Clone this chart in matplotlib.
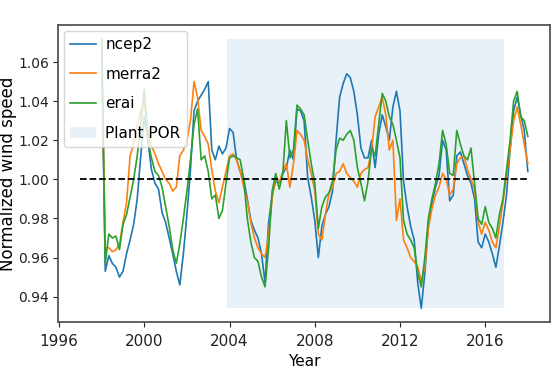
import numpy as np
import matplotlib
matplotlib.use("Agg")
import matplotlib.pyplot as plt

# ---- data (bi-monthly readings, decimal years) ----
start_year = 1998.0
step = 1.0 / 6.0

ncep2 = [1.065, 0.953, 0.961, 0.957, 0.955, 0.950, 0.953, 0.962, 0.969, 0.977,
         0.990, 1.012, 1.032, 1.020, 1.005, 0.998, 0.995, 0.983, 0.978, 0.970,
         0.962, 0.953, 0.946, 0.962, 0.982, 1.005, 1.035, 1.040, 1.043, 1.046,
         1.050, 1.015, 1.010, 1.017, 1.013, 1.016, 1.026, 1.024, 1.010, 1.004,
         1.000, 0.990, 0.979, 0.974, 0.970, 0.962, 0.947, 0.978, 0.992, 0.999,
         0.998, 1.003, 1.006, 1.015, 1.010, 1.036, 1.035, 1.030, 1.001, 0.991,
         0.979, 0.960, 0.976, 0.982, 0.986, 0.994, 1.020, 1.042, 1.049, 1.054,
         1.052, 1.045, 1.033, 1.016, 1.011, 1.011, 1.020, 1.006, 1.023, 1.033,
         1.027, 1.020, 1.037, 1.045, 1.035, 0.999, 0.986, 0.976, 0.969, 0.947,
         0.934, 0.952, 0.978, 0.988, 0.996, 1.002, 1.020, 1.015, 0.989, 0.992,
         1.012, 1.014, 1.008, 1.002, 0.998, 0.990, 0.968, 0.965, 0.972, 0.968,
         0.962, 0.955, 0.966, 0.978, 0.992, 1.015, 1.035, 1.042, 1.033, 1.025,
         1.004]

merra2 = [1.068, 0.965, 0.965, 0.963, 0.964, 0.967, 0.978, 0.988, 1.012, 1.018,
          1.028, 1.035, 1.040, 1.025, 1.017, 1.013, 1.008, 1.004, 1.000, 0.998,
          0.994, 0.996, 1.012, 1.015, 1.020, 1.030, 1.050, 1.042, 1.025, 1.022,
          1.018, 1.005, 0.994, 0.988, 0.996, 1.004, 1.012, 1.013, 1.010, 1.004,
          0.996, 0.989, 0.978, 0.970, 0.965, 0.962, 0.960, 0.972, 0.990, 1.002,
          0.998, 1.004, 1.008, 0.996, 1.008, 1.025, 1.023, 1.020, 1.010, 1.003,
          0.994, 0.972, 0.969, 0.982, 0.993, 0.996, 1.003, 1.004, 1.008, 1.003,
          1.001, 0.999, 0.996, 1.003, 1.005, 1.006, 1.015, 1.032, 1.037, 1.042,
          1.033, 1.015, 1.020, 0.979, 0.990, 0.969, 0.965, 0.960, 0.958, 0.955,
          0.948, 0.955, 0.975, 0.985, 0.992, 0.996, 1.003, 1.000, 0.992, 0.995,
          1.008, 1.011, 1.012, 1.005, 1.000, 0.995, 0.978, 0.972, 0.978, 0.974,
          0.968, 0.965, 0.976, 0.988, 1.002, 1.015, 1.030, 1.037, 1.028, 1.018,
          1.008]

erai = [1.072, 0.957, 0.972, 0.970, 0.971, 0.964, 0.977, 0.982, 0.991, 1.000,
        1.012, 1.028, 1.046, 1.020, 1.011, 1.004, 1.002, 0.996, 0.986, 0.976,
        0.964, 0.957, 0.967, 0.980, 0.994, 1.010, 1.028, 1.036, 1.010, 1.012,
        1.004, 0.990, 0.992, 0.980, 0.984, 0.998, 1.011, 1.012, 1.011, 1.010,
        1.000, 0.980, 0.968, 0.960, 0.958, 0.950, 0.945, 0.965, 0.994, 1.003,
        0.995, 1.003, 1.030, 1.011, 1.015, 1.038, 1.036, 1.033, 1.020, 1.008,
        0.998, 0.975, 0.986, 0.991, 0.993, 0.999, 1.015, 1.021, 1.020, 1.023,
        1.025, 1.020, 1.006, 0.998, 0.989, 0.999, 1.016, 1.012, 1.028, 1.044,
        1.040, 1.032, 1.028, 1.020, 1.011, 0.979, 0.972, 0.969, 0.965, 0.952,
        0.945, 0.960, 0.980, 0.990, 0.998, 1.008, 1.025, 1.018, 1.003, 1.002,
        1.025, 1.018, 1.012, 1.010, 1.016, 0.998, 0.980, 0.977, 0.986, 0.978,
        0.975, 0.970, 0.982, 0.990, 1.005, 1.020, 1.040, 1.045, 1.032, 1.030,
        1.022]

series_names = ["ncep2", "merra2", "erai"]
por_label = "Plant POR"
por_start, por_end = 2003.9, 2016.9
ref_value = 1.0
ref_start, ref_end = 1997.0, 2018.0
x_ticks = [1996, 2000, 2004, 2008, 2012, 2016]
y_ticks = [0.94, 0.96, 0.98, 1.00, 1.02, 1.04, 1.06]

years = start_year + step * np.arange(len(ncep2))

fig = plt.figure(figsize=(5.58, 3.80), dpi=100)
ax = fig.add_axes([0.104, 0.153, 0.882, 0.781])

for name, vals, col in zip(series_names, [ncep2, merra2, erai], ["C0", "C1", "C2"]):
    ax.plot(years, vals, color=col, lw=1.2, label=name)

all_vals = np.concatenate([ncep2, merra2, erai])
ax.fill_between([por_start, por_end], all_vals.min(), all_vals.max(),
                color="C0", alpha=0.1, lw=0, label=por_label)
ax.hlines(ref_value, ref_start, ref_end, colors="k", linestyles="--", lw=1.3)

ax.set_xticks(x_ticks)
ax.set_yticks(y_ticks)
ax.set_yticklabels([f"{v:.2f}" for v in y_ticks])
ax.tick_params(colors="#222222")
ax.tick_params(axis="x", labelsize=11, pad=5)
ax.tick_params(axis="y", labelsize=10, pad=3)
for s in ax.spines.values():
    s.set_color("#555555")
    s.set_linewidth(1.3)

ax.set_xlabel("Year", fontsize=11)
ax.set_ylabel("Normalized wind speed", fontsize=12)
ax.yaxis.set_label_coords(-0.084, 0.5)
ax.xaxis.set_label_coords(0.5, -0.108)

ax.legend(loc="upper left", fontsize=11, labelspacing=0.95,
          borderaxespad=0.4, handlelength=1.7, handletextpad=0.6)

fig.savefig("out.png", dpi=100)
